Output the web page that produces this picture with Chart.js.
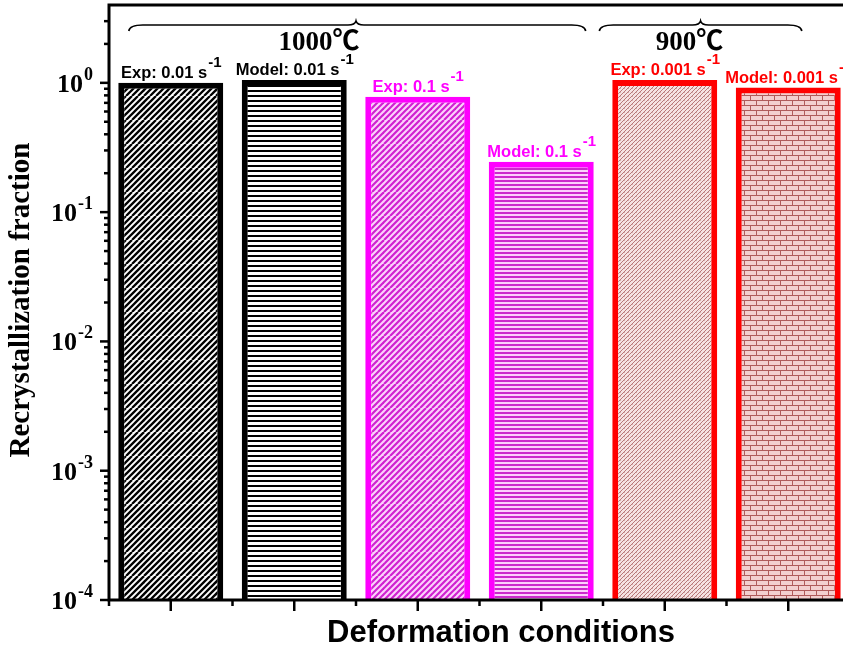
<!DOCTYPE html>
<html>
<head>
<meta charset="utf-8">
<script src="https://cdn.jsdelivr.net/npm/chart.js@4.4.1/dist/chart.umd.min.js"></script>
<style>
html, body { margin: 0; padding: 0; background: #fff; overflow: hidden; }
#wrap { width: 843px; height: 650px; overflow: hidden; }
</style>
</head>
<body>
<div id="wrap"><canvas id="chart" width="862" height="650"></canvas></div>
<script>
// values
const conditions = ['Exp: 0.01 s', 'Model: 0.01 s', 'Exp: 0.1 s', 'Model: 0.1 s', 'Exp: 0.001 s', 'Model: 0.001 s'];
const fractions = [1.0, 1.05, 0.78, 0.245, 1.05, 0.92];
const barColors = ['#000000', '#000000', '#ff00ff', '#ff00ff', '#ff0000', '#ff0000'];
const yTickExps = [-4, -3, -2, -1, 0];
const groupLabels = ['1000℃', '900℃'];

function tile(w, h, bg, draw) {
  const c = document.createElement('canvas');
  c.width = w; c.height = h;
  const g = c.getContext('2d');
  g.fillStyle = bg;
  g.fillRect(0, 0, w, h);
  draw(g, w, h);
  return g.createPattern(c, 'repeat');
}

function diag(color, bg, p, lw) {
  const s = p * 4;
  return tile(s, s, bg, (g) => {
    g.strokeStyle = color; g.lineWidth = lw;
    for (let o = -s; o <= s; o += p) {
      g.beginPath(); g.moveTo(o, s); g.lineTo(o + s, 0); g.stroke();
    }
  });
}

function horiz(color, bg, p, lw) {
  return tile(4, p, bg, (g) => { g.fillStyle = color; g.fillRect(0, 0, 4, lw); });
}

const patterns = [
  diag('#000', '#fff', 6, 2.3),
  horiz('#000', '#fff', 5, 2),
  diag('#d020d0', '#fcd2fc', 6, 2.2),
  horiz('#cc2acc', '#fcd0fc', 4.5, 2),
  tile(4, 4, '#f6e2e2', (g) => {
    g.strokeStyle = '#b87878'; g.lineWidth = 1;
    for (const o of [-4, 0, 4]) { g.beginPath(); g.moveTo(o, 4); g.lineTo(o + 4, 0); g.stroke(); }
    g.fillStyle = '#d6aeae'; g.fillRect(0, 0, 1, 1);
  }),
  tile(12, 10, '#f3cfcf', (g) => {
    g.fillStyle = '#b05a5a';
    g.fillRect(0, 0, 12, 1); g.fillRect(0, 5, 12, 1);
    g.fillRect(0, 0, 1, 5); g.fillRect(6, 5, 1, 5);
  })
];

function supText(ctx, base, sup, x, y, baseFont, supFont, rise, align) {
  ctx.font = baseFont;
  const wb = ctx.measureText(base).width;
  ctx.font = supFont;
  const ws = ctx.measureText(sup).width;
  let x0 = x;
  if (align === 'right') x0 = x - wb - ws;
  if (align === 'center') x0 = x - (wb + ws) / 2;
  ctx.textAlign = 'left';
  ctx.textBaseline = 'alphabetic';
  ctx.font = baseFont;
  ctx.fillText(base, x0, y);
  ctx.font = supFont;
  ctx.fillText(sup, x0 + wb + 1, y - rise);
}

function brace(ctx, x1, x2, xm, y) {
  ctx.beginPath();
  ctx.moveTo(x1, y + 6);
  ctx.quadraticCurveTo(x1 + 1, y, x1 + 14, y);
  ctx.lineTo(xm - 8, y);
  ctx.quadraticCurveTo(xm - 1, y, xm, y - 4);
  ctx.quadraticCurveTo(xm + 1, y, xm + 8, y);
  ctx.lineTo(x2 - 14, y);
  ctx.quadraticCurveTo(x2 - 1, y, x2, y + 6);
  ctx.stroke();
}

const decor = {
  id: 'decor',
  afterDatasetsDraw(chart) {
    const { ctx, chartArea: a, scales: { x, y } } = chart;
    const seg = (x1, y1, x2, y2) => { ctx.beginPath(); ctx.moveTo(x1, y1); ctx.lineTo(x2, y2); ctx.stroke(); };
    ctx.save();
    ctx.strokeStyle = '#000';
    ctx.fillStyle = '#000';
    ctx.lineWidth = 3;
    ctx.strokeRect(a.left, a.top, a.right - a.left, a.bottom - a.top);

    // y ticks and labels
    ctx.lineWidth = 2.5;
    yTickExps.forEach((e) => {
      const py = y.getPixelForValue(Math.pow(10, e));
      seg(a.left - 9, py, a.left, py);
      for (let k = 2; k <= 9; k++) {
        const v = k * Math.pow(10, e);
        if (v >= y.max) break;
        const pm = y.getPixelForValue(v);
        seg(a.left - 5, pm, a.left, pm);
      }
      supText(ctx, '10', String(e), 92, py + 9, 'bold 26px "Liberation Serif"', 'bold 18px "Liberation Serif"', 12, 'right');
    });

    // x ticks
    conditions.forEach((c, i) => {
      const px = x.getPixelForValue(i);
      seg(px, a.bottom, px, a.bottom + 11);
    });
    for (let i = 0; i <= conditions.length; i++) {
      const px = x.getPixelForValue(i - 0.5);
      seg(px, a.bottom, px, a.bottom + 6);
    }

    // bar labels
    const meta = chart.getDatasetMeta(0);
    meta.data.forEach((bar, i) => {
      ctx.fillStyle = barColors[i];
      supText(ctx, conditions[i], '-1', bar.x, bar.y - 5, 'bold 16.5px "Liberation Sans"', 'bold 15px "Liberation Sans"', 11, 'center');
    });

    // group braces
    ctx.strokeStyle = '#000';
    ctx.fillStyle = '#000';
    ctx.lineWidth = 1.6;
    const px = (v) => x.getPixelForValue(v);
    brace(ctx, px(-0.34), px(3.36), px(1.5), a.top + 20);
    brace(ctx, px(3.47), px(5.11), px(4.29), a.top + 20);
    ctx.font = 'bold 27px "Liberation Serif", "Noto Sans CJK SC", serif';
    ctx.textAlign = 'center';
    ctx.textBaseline = 'alphabetic';
    ctx.fillText(groupLabels[0], px(1.2), a.top + 45);
    ctx.fillText(groupLabels[1], px(4.2), a.top + 45);

    // axis titles
    ctx.font = 'bold 31px "Liberation Sans"';
    ctx.textBaseline = 'middle';
    ctx.fillText('Deformation conditions', 501, 633);
    ctx.save();
    ctx.translate(22, 300);
    ctx.rotate(-Math.PI / 2);
    ctx.font = 'bold 29px "Liberation Serif"';
    ctx.fillText('Recrystallization fraction', 0, 0);
    ctx.restore();
    ctx.restore();
  }
};

new Chart(document.getElementById('chart'), {
  type: 'bar',
  data: {
    labels: conditions,
    datasets: [{
      data: fractions,
      backgroundColor: patterns,
      borderColor: barColors,
      borderWidth: 6,
      barPercentage: 0.85,
      categoryPercentage: 1
    }]
  },
  options: {
    responsive: false,
    animation: false,
    layout: { padding: { left: 109, top: 5, right: 12, bottom: 50 } },
    scales: {
      x: { type: 'category', offset: true, grid: { display: false, drawTicks: false }, ticks: { display: false }, border: { display: false } },
      y: { type: 'logarithmic', min: 1e-4, max: 4, grid: { display: false, drawTicks: false }, ticks: { display: false }, border: { display: false } }
    },
    plugins: { legend: { display: false }, tooltip: { enabled: false } }
  },
  plugins: [decor]
});
</script>
</body>
</html>
